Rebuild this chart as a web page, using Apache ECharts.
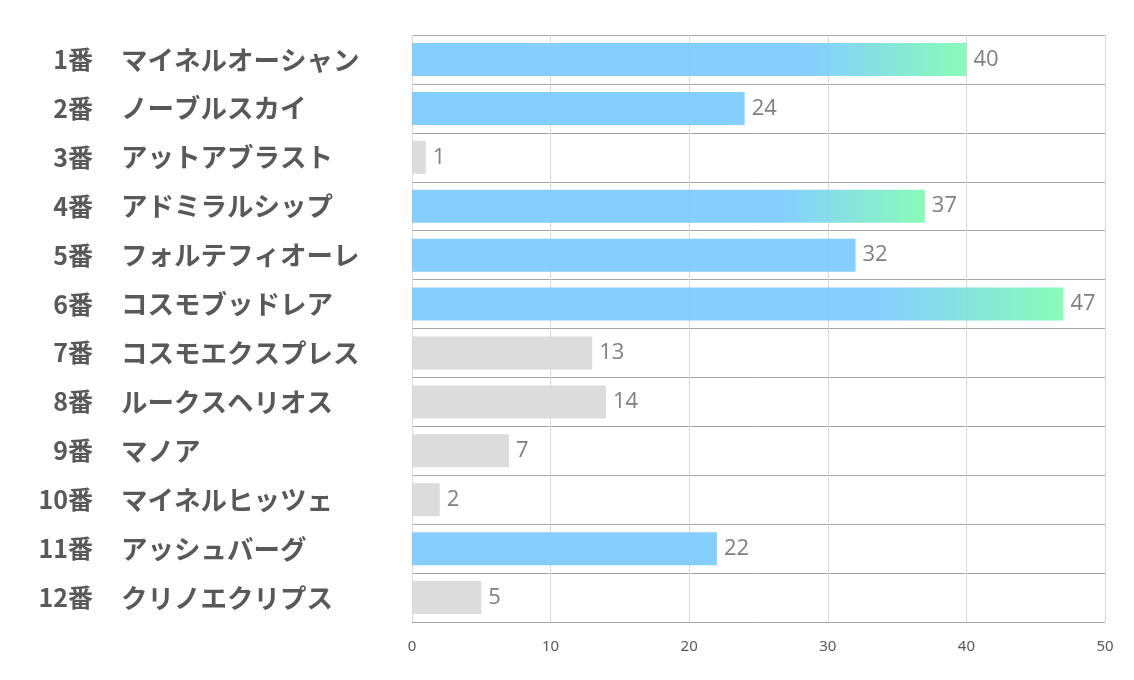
<!DOCTYPE html>
<html><head><meta charset="utf-8">
<script src="https://cdn.jsdelivr.net/npm/echarts@6/dist/echarts.min.js"></script>
<style>html,body{margin:0;padding:0;background:#fff}#c{width:1134px;height:680px}</style>
</head><body><div id="c"></div>
<script>
const numbers = ['1番','2番','3番','4番','5番','6番','7番','8番','9番','10番','11番','12番'];
const names = ['マイネルオーシャン','ノーブルスカイ','アットアブラスト','アドミラルシップ','フォルテフィオーレ','コスモブッドレア','コスモエクスプレス','ルークスヘリオス','マノア','マイネルヒッツェ','アッシュバーグ','クリノエクリプス'];
const values = [40,24,1,37,32,47,13,14,7,2,22,5];
const xTicks = [0,10,20,30,40,50];

const sorted = values.slice().sort((a,b)=>b-a);
const BLUE = '#7ccbfe', GREEN = '#7ffbb2', GRAY = '#d9d9d9';
const seriesData = values.map(v=>{
  const rank = sorted.indexOf(v);
  let color;
  if (rank < 3) {
    color = {type:'linear',x:0,y:0,x2:1,y2:0,colorStops:[
      {offset:0,color:BLUE},{offset:0.72,color:BLUE},{offset:1,color:GREEN}]};
  } else if (rank < 6) color = BLUE; else color = GRAY;
  return {value:v, itemStyle:{color}};
});

const labelFont = {fontWeight:'bold',color:'#595959',fontFamily:'Noto Sans CJK JP'};
const chart = echarts.init(document.getElementById('c'));
chart.setOption({
  animation:false,
  grid:{left:412,right:29,top:35,bottom:58},
  xAxis:{type:'value',min:0,max:50,interval:10,
    axisLine:{show:false},axisTick:{show:false},
    axisLabel:{color:'#595959',fontSize:15,fontFamily:'Noto Sans',margin:17,
      formatter:v=>xTicks.includes(v)?String(v):''},
    splitLine:{lineStyle:{color:'#d9d9d9',width:1}}},
  yAxis:[
    {type:'category',data:numbers,inverse:true,position:'left',
      axisLine:{show:false},axisTick:{show:false},
      splitLine:{show:true,lineStyle:{color:'#a6a6a6',width:1}},
      axisLabel:Object.assign({margin:319,align:'right',fontSize:25},labelFont)},
    {type:'category',data:names,inverse:true,position:'left',offset:0,
      axisLine:{show:false},axisTick:{show:false},splitLine:{show:false},
      axisLabel:Object.assign({margin:291,align:'left',fontSize:26.5},labelFont)}
  ],
  series:[{type:'bar',yAxisIndex:0,data:seriesData,barWidth:33,
    itemStyle:{opacity:0.93},
    label:{show:true,position:'right',distance:7,color:'#767676',fontSize:22,fontFamily:'Open Sans'}}]
});
</script></body></html>
